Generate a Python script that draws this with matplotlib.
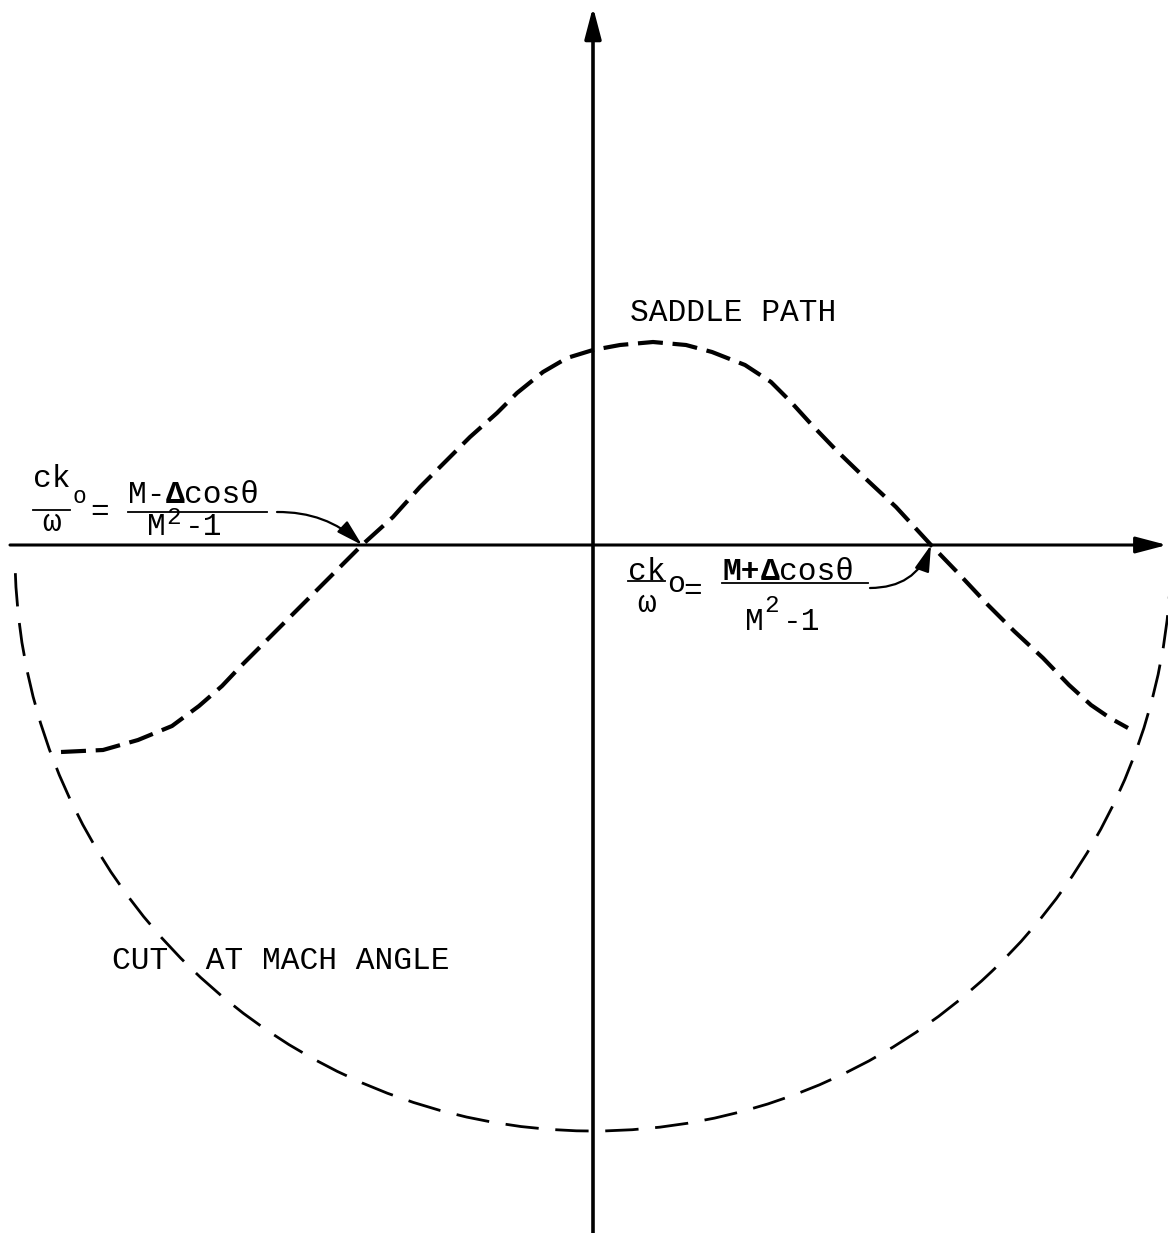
import matplotlib
matplotlib.use("Agg")
import matplotlib.pyplot as plt
from matplotlib.patches import Arc

# Saddle path in the k-plane
saddle_x = [-5.32, -4.90, -4.55, -4.21, -3.94, -3.71, -3.53, -3.23, -2.93, -2.63,
            -2.31, -2.00, -1.73, -1.46, -1.23, -0.96, -0.76, -0.50, -0.26, 0.00,
            0.27, 0.60, 0.93, 1.19, 1.52, 1.78, 1.98, 2.18, 2.44, 2.73,
            3.03, 3.38, 3.66, 3.95, 4.21, 4.50, 4.76, 4.98, 5.17, 5.35]
saddle_y = [-2.07, -2.05, -1.95, -1.81, -1.61, -1.41, -1.22, -0.92, -0.62, -0.32,
            0.00, 0.28, 0.58, 0.85, 1.08, 1.32, 1.52, 1.73, 1.87, 1.95,
            2.00, 2.03, 2.00, 1.93, 1.80, 1.63, 1.43, 1.21, 0.94, 0.66,
            0.38, 0.00, -0.29, -0.60, -0.86, -1.13, -1.40, -1.60, -1.73, -1.83]

# Cut at the Mach angle: centre, radius, start/end angle in degrees
cut_center = (0.0, -0.08)
cut_radius = 5.78
cut_theta = (182.0, 357.5)

# Axis extents
x_axis = (-5.83, 5.74)
y_axis = (-6.88, 5.38)

# Points where the saddle path crosses the real axis
crossings = [(-2.31, 0.0), (3.38, 0.0)]

plt.rcParams['font.family'] = ['Liberation Mono', 'DejaVu Sans Mono']
plt.rcParams['lines.scale_dashes'] = False

FS = 22.5
ADV = 0.6 * FS / 72   # width of one monospace cell in data units


def draw_axes(ax):
    arrow = dict(arrowstyle='-|>,head_length=1.9,head_width=0.5',
                 mutation_scale=10, color='black', shrinkA=0, shrinkB=0)
    ax.annotate('', xy=(x_axis[1], 0), xytext=(x_axis[0], 0),
                arrowprops=dict(arrow, lw=2.2))
    ax.annotate('', xy=(0, y_axis[1]), xytext=(0, y_axis[0]),
                arrowprops=dict(arrow, lw=2.6))


def draw_ratio(ax, x0, y0, o_dy, o_size, bar_y, w_dy, eq, num, bar_x, den,
               sup_dy, sign):
    # ck_o over omega
    ax.text(x0, y0, 'ck', fontsize=FS, va='baseline', ha='left')
    ax.text(x0 + 2 * ADV + 0.02, y0 + o_dy, 'o', fontsize=o_size,
            va='baseline', ha='left')
    ax.plot([x0, x0 + 2 * ADV], [bar_y, bar_y], color='black', lw=1.3)
    ax.text(x0 + ADV, bar_y + w_dy, 'ω', fontsize=FS,
            va='baseline', ha='center')
    ax.text(eq[0], eq[1], '=', fontsize=FS, va='center', ha='center')

    # M ± Δcosθ over M^2 - 1
    nx, ny = num
    ax.text(nx, ny, 'M' + sign, fontsize=FS, va='baseline', ha='left',
            fontweight='bold' if sign == '+' else 'normal')
    ax.text(nx + 2 * ADV, ny, 'Δ', fontsize=FS, va='baseline', ha='left',
            fontweight='bold')
    ax.text(nx + 3 * ADV, ny, 'cosθ', fontsize=FS, va='baseline', ha='left')
    ax.plot(bar_x, [bar_y - 0.02, bar_y - 0.02], color='black', lw=1.3)
    dx, dy = den
    ax.text(dx, dy, 'M', fontsize=FS, va='baseline', ha='left')
    ax.text(dx + ADV + 0.01, dy + sup_dy, '2', fontsize=FS - 5,
            va='baseline', ha='left')
    ax.text(dx + 2 * ADV, dy, '-1', fontsize=FS, va='baseline', ha='left')


fig = plt.figure(figsize=(11.68, 12.33), dpi=100)
ax = fig.add_axes([0, 0, 1, 1])
ax.set_xlim(-5.93, 5.75)
ax.set_ylim(-6.88, 5.45)
ax.axis('off')

draw_axes(ax)

# saddle path
ax.plot(saddle_x, saddle_y, color='black', lw=3.0,
        linestyle=(0, (18, 7)), solid_capstyle='butt')

# cut at Mach angle
cut = Arc(cut_center, 2 * cut_radius, 2 * cut_radius,
          theta1=cut_theta[0], theta2=cut_theta[1],
          color='black', lw=2.0, linestyle=(0, (24, 12)))
ax.add_patch(cut)

# labels
ax.text(0.37, 2.32, 'SADDLE PATH', fontsize=FS, va='center', ha='left')
ax.text(-4.81, -4.16, 'CUT  AT MACH ANGLE', fontsize=FS, va='center', ha='left')

arrow_small = dict(arrowstyle='-|>,head_length=1.6,head_width=0.45',
                   mutation_scale=10, color='black', lw=1.6,
                   shrinkA=0, shrinkB=0)

# left crossing: (M - Δcosθ)/(M²-1)
draw_ratio(ax, -5.60, 0.58, -0.16, FS - 6, 0.35, -0.21, (-4.93, 0.33),
           (-4.65, 0.42), [-4.65, -3.26], (-4.46, 0.10), 0.11, '-')
ax.annotate('', xy=crossings[0], xytext=(-3.16, 0.33),
            arrowprops=dict(arrow_small, connectionstyle='arc3,rad=-0.2'))

# right crossing: (M + Δcosθ)/(M²-1)
draw_ratio(ax, 0.35, -0.35, -0.12, FS - 1, -0.36, -0.31, (1.00, -0.46),
           (1.30, -0.35), [1.29, 2.75], (1.52, -0.85), 0.18, '+')
ax.annotate('', xy=crossings[1], xytext=(2.77, -0.43),
            arrowprops=dict(arrow_small, connectionstyle='arc3,rad=0.35'))

fig.savefig('out.png', dpi=100, facecolor='white')
